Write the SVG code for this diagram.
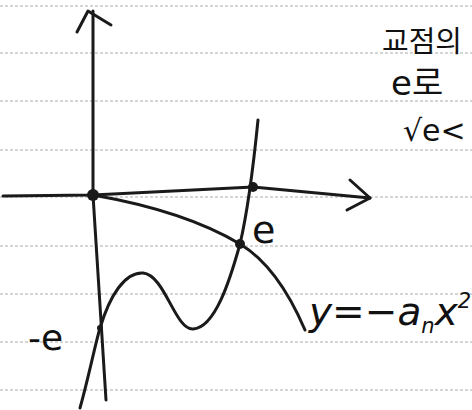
<svg xmlns="http://www.w3.org/2000/svg" width="472" height="410" viewBox="0 0 472 410">
<style>
.rule{stroke:#c8c8c8;stroke-width:1.5;stroke-dasharray:3 2;fill:none}
.ink{stroke:#1a1a1a;stroke-width:3;fill:none;stroke-linecap:round;stroke-linejoin:round}
.dot{fill:#1a1a1a}
.t{font-family:"DejaVu Sans","Noto Sans CJK KR",sans-serif;fill:#111}
</style>
<rect width="472" height="410" fill="#ffffff"/>
<g id="paper">
<line class="rule" x1="0" y1="6" x2="472" y2="6"/>
<line class="rule" x1="0" y1="53" x2="472" y2="53"/>
<line class="rule" x1="0" y1="101" x2="472" y2="101"/>
<line class="rule" x1="0" y1="150" x2="472" y2="150"/>
<line class="rule" x1="0" y1="197" x2="472" y2="197"/>
<line class="rule" x1="0" y1="246" x2="472" y2="246"/>
<line class="rule" x1="0" y1="294" x2="472" y2="294"/>
<line class="rule" x1="0" y1="342" x2="472" y2="342"/>
<line class="rule" x1="0" y1="390" x2="472" y2="390"/>
</g>
<g id="connectors">
<path id="y-axis" class="ink" d="M93 11 L93 195 L106 400"/>
<path class="ink" d="M77 32 L88 11 L111 25"/>
<path id="x-axis" class="ink" d="M3 196 L93 195 L253 187 L370 198"/>
<path class="ink" d="M350 180 L370 198 L347 210"/>
<path id="parabola" class="ink" d="M93 195 C150 205 200 220 240 244 C270 262 290 295 305 330"/>
<path id="wave" class="ink" d="M80 408 C88 380 95 345 100 328 C110 295 125 272 143 273 C165 275 175 330 193 329 C215 328 230 280 240 244 C248 210 253 170 258 120"/>
</g>
<g id="points">
<circle class="dot" cx="93" cy="195" r="6"/>
<circle class="dot" cx="253" cy="187" r="5"/>
<circle class="dot" cx="240" cy="244" r="5"/>
<circle class="dot" cx="100" cy="328" r="3"/>
</g>
<g id="labels">
<text class="t" x="252" y="243" font-size="38">e</text>
<text class="t" x="28" y="350" font-size="36">-e</text>
<text class="t" x="309" y="325" font-size="39" font-style="italic">y=−a<tspan font-size="21" dy="8">n</tspan><tspan dy="-8">x</tspan><tspan font-size="21" dy="-17">2</tspan></text>
<text class="t" x="382" y="52" font-size="29">교점의</text>
<text class="t" x="391" y="95" font-size="34">e로</text>
<text class="t" x="403" y="141" font-size="30">√e&lt;</text>
</g>
</svg>
